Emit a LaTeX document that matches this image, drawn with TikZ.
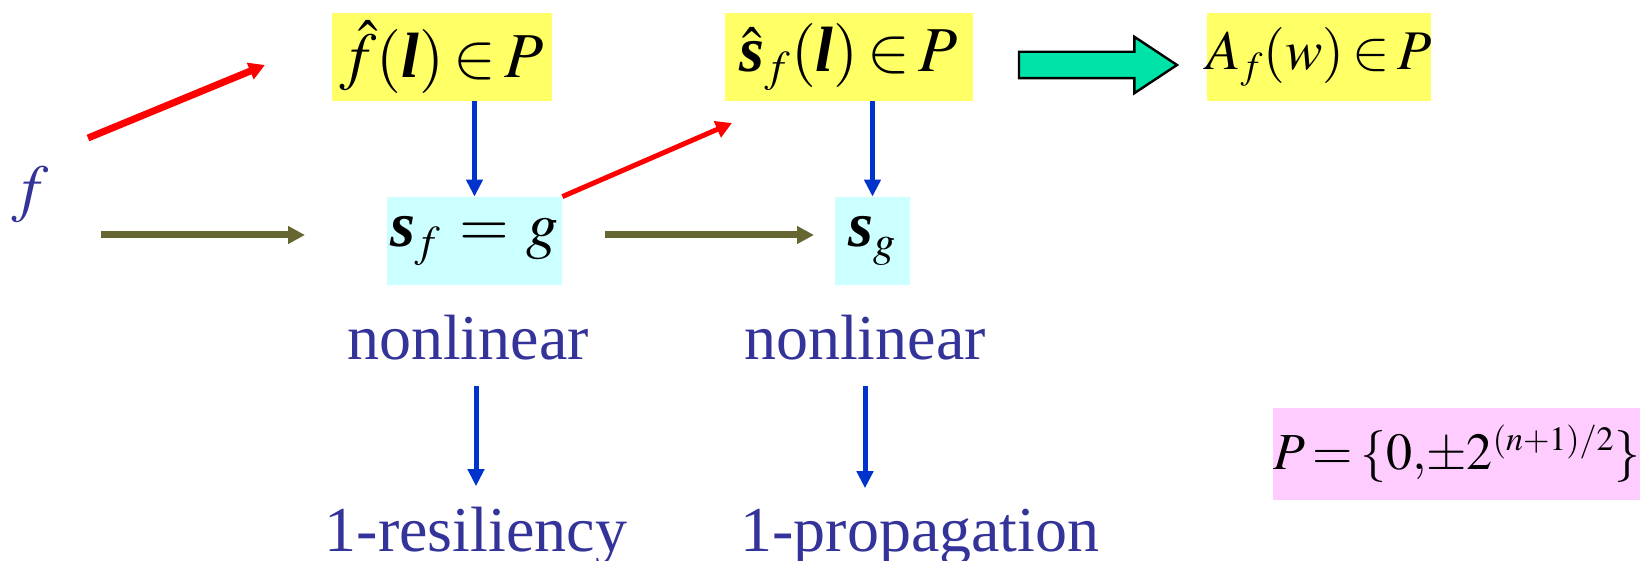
\documentclass[tikz,border=0pt]{standalone}
\usepackage{amsmath}
\usepackage{mathptmx}
\usepackage{fontspec}
\setmainfont{Liberation Serif}
\usetikzlibrary{arrows.meta,positioning,calc,shapes.arrows}
\DeclareMathSizes{32}{32}{22}{16}
\DeclareMathSizes{28}{28}{19}{14}
\DeclareMathSizes{26}{26}{17}{13}
\definecolor{boxyellow}{HTML}{FFFF66}
\definecolor{boxcyan}{HTML}{CCFFFF}
\definecolor{boxpink}{HTML}{FFCCFF}
\definecolor{txtblue}{HTML}{333399}
\definecolor{arrblue}{HTML}{0033CC}
\definecolor{arrolive}{HTML}{666633}
\definecolor{arrgreen}{HTML}{00E3A8}
\newcommand{\bv}[1]{\text{\bfseries\itshape #1}}
\newcommand{\tightmath}{\thickmuskip=2.5mu\relax\medmuskip=2mu\relax}

\begin{document}
\begin{tikzpicture}[
    x=0.5pt, y=-0.5pt,
    every node/.style={font=\fontsize{32}{38}\selectfont, execute at begin node=\tightmath},
    ybox/.style={fill=boxyellow, minimum height=44pt, inner sep=0pt},
    cbox/.style={fill=boxcyan, minimum height=44pt, inner sep=0pt},
    lbl/.style={text=txtblue, inner sep=0pt, anchor=base},
    redarr/.style={draw=red, line width=3.5pt, -{Triangle[length=8pt,width=8.5pt]}},
    bluearr/.style={draw=arrblue, line width=2.5pt, -{Triangle[length=8.5pt,width=8pt]}},
    olivearr/.style={draw=arrolive, line width=3.5pt, -{Triangle[length=8.5pt,width=8.5pt]}},
    fatarrow/.style={single arrow, draw=black, line width=1.2pt, fill=arrgreen,
        minimum height=79pt, inner sep=6pt, single arrow head extend=7.5pt,
        single arrow tip angle=67}
]
\useasboundingbox (0,0) rectangle (1640,561);

% obere Zeile
\node[ybox, minimum width=110pt] (fhat) at (442,57) {$\hat{f}(\bv{l})\in P$};
\node[ybox, minimum width=124pt] (shat) at (849,57) {$\hat{\bv{s}}_f(\bv{l})\in P$};
\node[ybox, minimum width=111pt, font=\fontsize{28}{34}\selectfont] (Af) at (1319,57) {$A_f(w)\in P$};
\node[fatarrow] (big) at (1088,65) {};

% mittlere Zeile
\node[text=txtblue] (f) at (30,195) {$f$};
\node[cbox, minimum width=87.5pt] (sfg) at (474.5,241) {$\bv{s}_f\mkern5mu{=}\mkern5mu g$};
\node[cbox, minimum width=37.5pt] (sg) at (872.5,241) {$\bv{s}_g$};

% Eigenschaften
\node[lbl] (nl1) at (468,360) {nonlinear};
\node[lbl] (nl2) at (865,360) {nonlinear};
\node[lbl] (res) at (476,551) {1-resiliency};
\node[lbl] (prop) at (920,551) {1-propagation};

\node[fill=boxpink, minimum width=183pt, minimum height=46pt, inner sep=0pt,
    font=\fontsize{26}{31}\selectfont] (Pset) at (1457,454)
    {$P=\{0{,}{\pm}2^{(n+1)/2}\}$};

% Pfeile
\coordinate (r1a) at (88,138);
\coordinate (r1b) at (265,65);
\coordinate (r2b) at (732,123);
\coordinate (o1a) at (101,235);
\coordinate (o1b) at (305,235);
\coordinate (o2a) at (605,235);
\coordinate (o2b) at (814,235);

\draw[redarr] (r1a) -- (r1b);
\draw[redarr, line width=2.5pt] (sfg.north east) -- (r2b);
\draw[olivearr] (o1a) -- (o1b);
\draw[olivearr] (o2a) -- (o2b);
\draw[bluearr] (sfg.north |- fhat.south) -- (sfg.north);
\draw[bluearr] (sg.north |- shat.south) -- (sg.north);
\draw[bluearr, shorten <=12.5pt, shorten >=10pt] (res.north |- nl1.south) -- (res.north);
\draw[bluearr, shorten <=12.5pt, shorten >=10pt] (nl2.south) -- (nl2.south |- prop.north);

\end{tikzpicture}
\end{document}
